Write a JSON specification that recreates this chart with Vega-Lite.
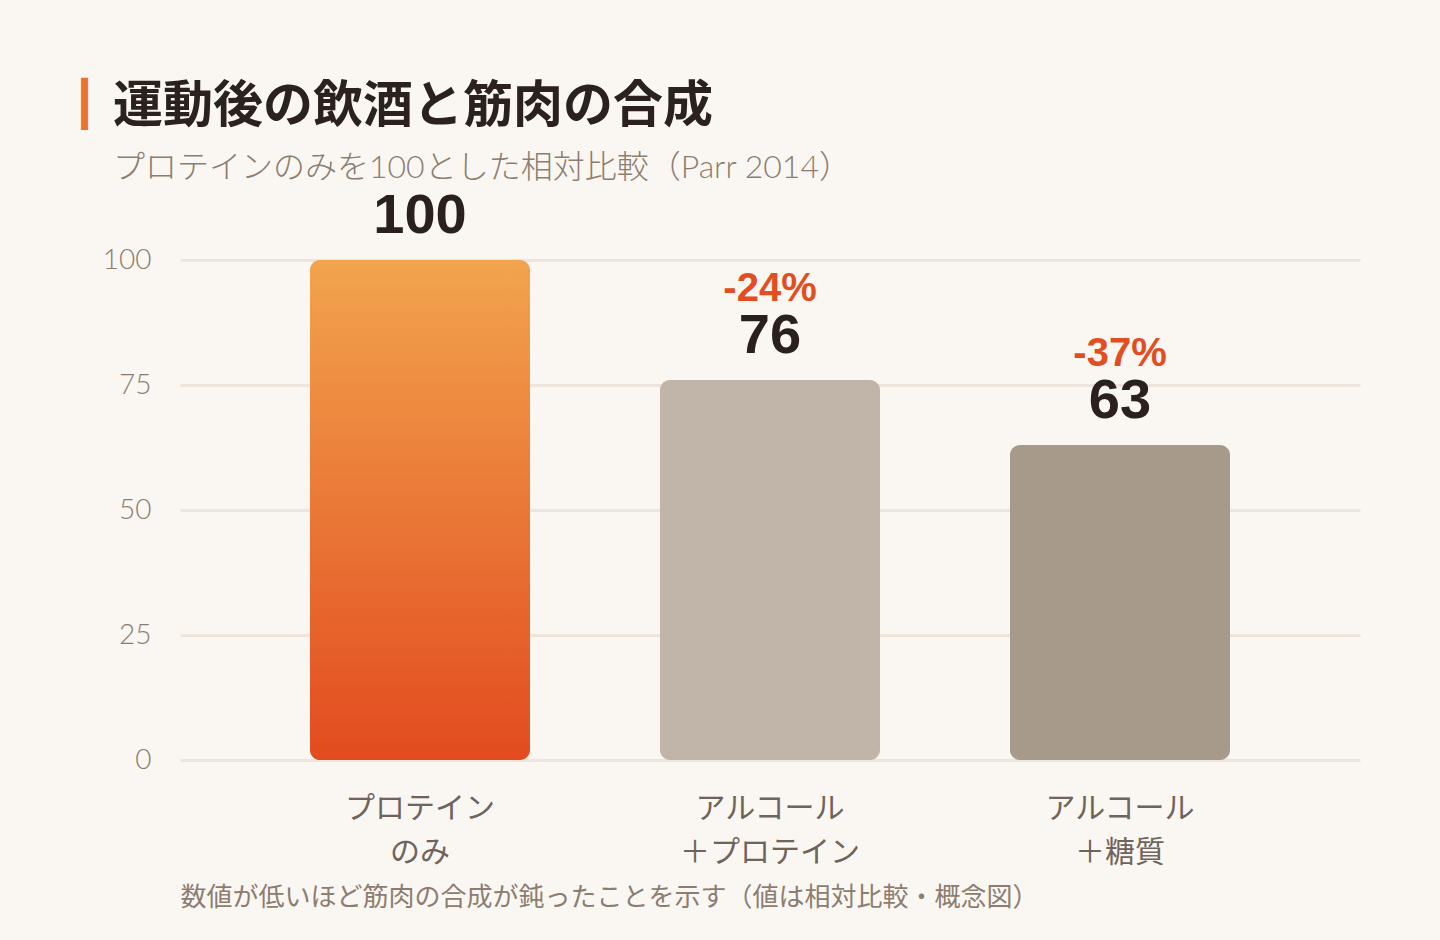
{
  "$schema": "https://vega.github.io/schema/vega-lite/v6.json",
  "width": 1180,
  "height": 500,
  "autosize": {"type": "none"},
  "padding": {"left": 180, "top": 260, "right": 80, "bottom": 180},
  "background": "#faf7f2",
  "config": {"view": {"stroke": null}},
  "title": {
    "text": "運動後の飲酒と筋肉の合成",
    "subtitle": "プロテインのみを100とした相対比較（Parr 2014）",
    "anchor": "start",
    "frame": "group",
    "dx": -67,
    "offset": -101,
    "font": "Noto Sans CJK JP",
    "fontSize": 50,
    "fontWeight": "bold",
    "color": "#2b2220",
    "subtitleFont": "Lato, Noto Sans CJK JP",
    "subtitleFontSize": 32,
    "subtitleFontWeight": 300,
    "subtitleColor": "#8c7d70",
    "subtitlePadding": 21
  },
  "data": {
    "values": [
      {"group": "プロテイン のみ", "value": 100, "diff": null},
      {"group": "アルコール ＋プロテイン", "value": 76, "diff": "-24%"},
      {"group": "アルコール ＋糖質", "value": 63, "diff": "-37%"}
    ]
  },
  "encoding": {
    "x": {
      "field": "group",
      "type": "nominal",
      "sort": null,
      "scale": {"paddingInner": 0.3714, "paddingOuter": 0.3714},
      "axis": {
        "title": "数値が低いほど筋肉の合成が鈍ったことを示す（値は相対比較・概念図）",
        "titleFont": "Noto Sans CJK JP",
        "titleFontSize": 26,
        "titleFontWeight": "normal",
        "titleColor": "#8c7d70",
        "titleX": 0,
        "titleY": 137,
        "titleAlign": "left",
        "titleBaseline": "middle",
        "titleAnchor": "start",
        "labelExpr": "split(datum.label, ' ')",
        "labelAngle": 0,
        "labelFont": "Noto Sans CJK JP",
        "labelFontSize": 30,
        "labelColor": "#6f645b",
        "labelLineHeight": 44,
        "labelPadding": 33,
        "labelBaseline": "top",
        "ticks": false,
        "domain": false,
        "grid": false
      }
    },
    "y": {
      "field": "value",
      "type": "quantitative",
      "scale": {"domain": [0, 100], "nice": false},
      "axis": {
        "values": [0, 25, 50, 75, 100],
        "title": "┃",
        "titleFont": "DejaVu Sans",
        "titleFontSize": 44,
        "titleFontWeight": "bold",
        "titleColor": "#e9722f",
        "titleAngle": 0,
        "titleX": -96,
        "titleY": -155,
        "titleAlign": "center",
        "titleBaseline": "middle",
        "grid": true,
        "gridColor": "#ede5dc",
        "gridWidth": 3,
        "domain": false,
        "ticks": false,
        "labelPadding": 29,
        "labelFont": "Lato",
        "labelFontWeight": 300,
        "labelFontSize": 28,
        "labelColor": "#8c7d70"
      }
    }
  },
  "layer": [
    {
      "mark": {"type": "bar", "cornerRadius": 10},
      "encoding": {
        "fill": {
          "condition": {
            "test": "datum.group === 'プロテイン のみ'",
            "value": {
              "gradient": "linear",
              "x1": 0, "y1": 0, "x2": 0, "y2": 1,
              "stops": [
                {"offset": 0, "color": "#f2a44e"},
                {"offset": 1, "color": "#e24b1f"}
              ]
            }
          },
          "field": "group",
          "type": "nominal",
          "scale": {
            "domain": ["プロテイン のみ", "アルコール ＋プロテイン", "アルコール ＋糖質"],
            "range": ["#ea7a35", "#c1b5a9", "#a89a8b"]
          },
          "legend": null
        }
      }
    },
    {
      "mark": {
        "type": "text",
        "baseline": "alphabetic",
        "dy": -27,
        "font": "Liberation Sans",
        "fontSize": 56,
        "fontWeight": "bold",
        "color": "#2a211e"
      },
      "encoding": {"text": {"field": "value", "type": "quantitative"}}
    },
    {
      "transform": [{"filter": "datum.diff != null"}],
      "mark": {
        "type": "text",
        "baseline": "alphabetic",
        "dy": -79,
        "font": "Liberation Sans",
        "fontSize": 40,
        "fontWeight": "bold",
        "color": "#e24d22"
      },
      "encoding": {"text": {"field": "diff", "type": "nominal"}}
    }
  ]
}
